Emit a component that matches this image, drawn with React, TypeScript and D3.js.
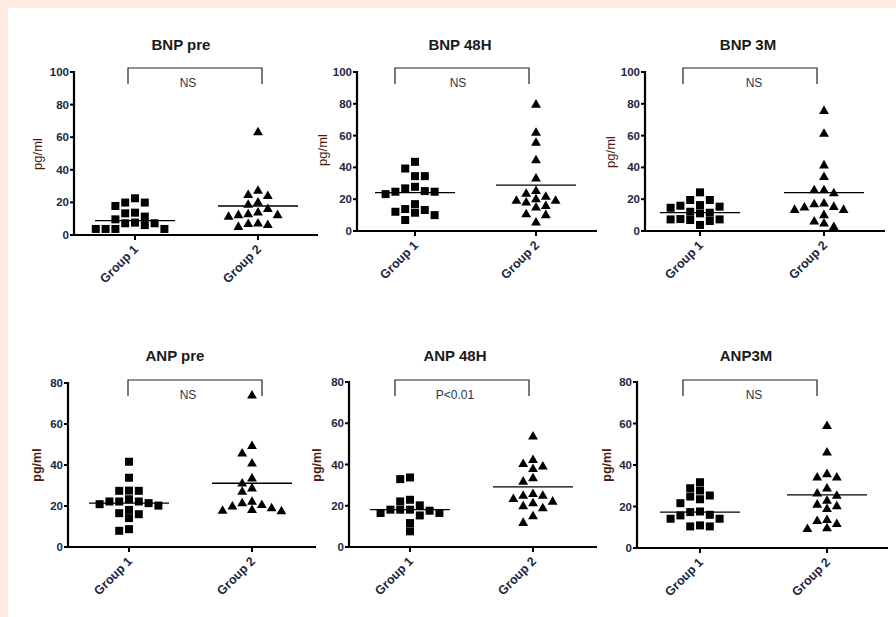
import React from "react";
import * as d3 from "d3";

// ---- data ----
const groups = ["Group 1", "Group 2"];
const titles = ["BNP pre", "BNP 48H", "BNP 3M", "ANP pre", "ANP 48H", "ANP3M"];
const pLabels = ["NS", "NS", "NS", "NS", "P<0.01", "NS"];
const yMaxes = [100, 100, 100, 80, 80, 80];

const bnpPreG1 = [22.5, 19.9, 19.9, 17.8, 13.7, 13.3, 11.3, 9.6, 7.6, 7.2, 7.2, 6.1, 3.7, 3.7, 3.7, 3.7];
const bnpPreG2 = [63.5, 27.7, 25, 24.5, 20.5, 19, 16.4, 14.3, 13.3, 12.7, 12.7, 11.7, 7.6, 7.2, 6.6, 5.5];
const bnp48G1 = [43.5, 39.3, 34.5, 34.5, 27.8, 26.8, 25.1, 24.7, 24.7, 23.2, 16.9, 13.8, 13.2, 12.1, 11.5, 10.0, 6.9];
const bnp48G2 = [80, 62.3, 56, 45, 33.5, 25.7, 24, 22, 20.5, 19.5, 19.5, 18.4, 16.3, 15.3, 11, 10.5, 5.9];
const bnp3mG1 = [24.3, 19.5, 19.5, 16.3, 15.9, 15.3, 14.6, 12.1, 11.5, 11.1, 7.5, 7.3, 7.3, 6.9, 6.3, 3.8];
const bnp3mG2 = [76, 61.7, 41.8, 34.5, 26.2, 26.2, 24.3, 17.8, 17.4, 15.7, 15.3, 13.8, 13.8, 10.5, 6.5, 5.2, 3.1];
const anpPreG1 = [41.6, 33.8, 27.5, 27.4, 27.4, 23.3, 22.2, 22.2, 22.2, 21.4, 20.9, 20.2, 18.1, 16.5, 16, 14.1, 8.7, 7.9];
const anpPreG2 = [74.3, 49.7, 46, 41.1, 33.8, 31.4, 29, 27.4, 22.5, 21.7, 20.9, 20.2, 19.3, 18.5, 18.1, 17.8];
const anp48G1 = [33.7, 32.9, 22.9, 22.1, 20.2, 18.1, 18.1, 18.1, 17.6, 16.5, 16.5, 15.3, 11.6, 7.6];
const anp48G2 = [54, 42.6, 40.6, 39.4, 38.2, 33.7, 32.1, 26.1, 25.3, 25.3, 23.7, 22.4, 21.6, 20.2, 19.2, 15.3, 12.1];
const anp3mG1 = [31.7, 28.8, 27.7, 25.3, 24.8, 23.5, 21.6, 17.6, 17.3, 16, 15.7, 14.1, 14.1, 10.9, 10.4, 10.4];
const anp3mG2 = [59.2, 46.4, 36, 34.4, 34.4, 29.1, 26.7, 25.6, 23.2, 21.3, 20.5, 19.2, 13.9, 13.4, 12, 9.9, 9.6];

const group1Series = [bnpPreG1, bnp48G1, bnp3mG1, anpPreG1, anp48G1, anp3mG1];
const group2Series = [bnpPreG2, bnp48G2, bnp3mG2, anpPreG2, anp48G2, anp3mG2];
const group1Lines = [8.8, 24.1, 11.5, 21.4, 18.1, 17.3];
const group2Lines = [17.8, 28.9, 24.1, 31.1, 29.2, 25.6];

// ---- layout (pixels) ----
const layouts = [
  { left: 74, right: 318, top: 72, bottom: 235, g1: 135, g2: 258, titleX: 181, titleY: 50, yLabX: 37, yLabY: 154, br: [128, 262], brTop: 68, brBot: 84, pX: 188, bold: false },
  { left: 357, right: 597, top: 72, bottom: 231, g1: 415, g2: 536, titleX: 460, titleY: 50, yLabX: 322, yLabY: 150, br: [395, 529], brTop: 68, brBot: 84, pX: 458, bold: false },
  { left: 645, right: 885, top: 72, bottom: 231, g1: 700, g2: 824, titleX: 748, titleY: 50, yLabX: 610, yLabY: 152, br: [683, 817], brTop: 68, brBot: 84, pX: 754, bold: false },
  { left: 68, right: 316, top: 383, bottom: 547, g1: 129, g2: 252, titleX: 175, titleY: 361, yLabX: 37, yLabY: 465, br: [128, 262], brTop: 380, brBot: 396, pX: 188, bold: true },
  { left: 349, right: 597, top: 382, bottom: 547, g1: 410, g2: 533, titleX: 455, titleY: 361, yLabX: 317, yLabY: 465, br: [395, 529], brTop: 380, brBot: 396, pX: 455, bold: true },
  { left: 637, right: 888, top: 382, bottom: 548, g1: 700, g2: 827, titleX: 746, titleY: 361, yLabX: 607, yLabY: 465, br: [683, 817], brTop: 380, brBot: 396, pX: 754, bold: true },
];

const FONT = "'Liberation Sans', Arial, Helvetica, sans-serif";
const TICK_COLOR = "#1b2745";
const SPACING = 9.8;
const MSIZE = 8;

function swarm(values: number[], y: (v: number) => number, cx: number) {
  const placed: { x: number; y: number }[] = [];
  const sorted = [...values].sort((a, b) => b - a);
  for (const v of sorted) {
    const py = y(v);
    for (let k = 0; k < 30; k++) {
      const col = k === 0 ? 0 : k % 2 === 1 ? -Math.ceil(k / 2) : Math.ceil(k / 2);
      const px = cx + col * SPACING;
      const hit = placed.some((p) => Math.abs(p.x - px) < SPACING - 1 && Math.abs(p.y - py) < MSIZE);
      if (!hit) {
        placed.push({ x: px, y: py });
        break;
      }
    }
  }
  return placed;
}

const triPath = d3.symbol().type(d3.symbolTriangle).size(42)() as string;

function Panel({ i }: { i: number }) {
  const L = layouts[i];
  const y = d3.scaleLinear().domain([0, yMaxes[i]]).range([L.bottom, L.top]);
  const x = d3.scalePoint<string>().domain(groups).range([L.g1, L.g2]);
  const ticks = y.ticks(5);
  const pts1 = swarm(group1Series[i], y, x("Group 1")!);
  const pts2 = swarm(group2Series[i], y, x("Group 2")!);
  const lines = [group1Lines[i], group2Lines[i]];
  return (
    <g>
      <text x={L.titleX} y={L.titleY} textAnchor="middle" fontFamily={FONT} fontWeight="bold" fontSize={15} fill="#1a1a1a">
        {titles[i]}
      </text>
      {/* bracket */}
      <path d={`M${L.br[0]},${L.brBot}V${L.brTop}H${L.br[1]}V${L.brBot}`} fill="none" stroke="#222" strokeWidth={1.2} />
      <text x={L.pX} y={L.brTop + 19} textAnchor="middle" fontFamily={FONT} fontSize={12} fill="#2a3552">
        {pLabels[i]}
      </text>
      {/* y axis */}
      <line x1={L.left} x2={L.left} y1={y(0) + 1} y2={y(yMaxes[i]) - 1} stroke="#000" strokeWidth={2.2} />
      {ticks.map((t) => (
        <g key={t}>
          <line x1={L.left - 4} x2={L.left} y1={y(t)} y2={y(t)} stroke="#000" strokeWidth={2} />
          <text x={L.left - 5} y={y(t) + 4} textAnchor="end" fontFamily={FONT} fontWeight="bold" fontSize={11.5} fill={TICK_COLOR}>
            {t}
          </text>
        </g>
      ))}
      <text
        transform={`translate(${L.yLabX},${L.yLabY}) rotate(-90)`}
        textAnchor="middle"
        dominantBaseline="central"
        fontFamily={FONT}
        fontWeight={L.bold ? "bold" : "normal"}
        fontSize={L.bold ? 12.5 : 13}
        fill="#4a1c10"
      >
        pg/ml
      </text>
      {/* x axis */}
      <line x1={L.left - 1} x2={L.right} y1={L.bottom} y2={L.bottom} stroke="#000" strokeWidth={2.2} />
      {groups.map((g) => (
        <g key={g}>
          <line x1={x(g)!} x2={x(g)!} y1={L.bottom} y2={L.bottom + 5} stroke="#000" strokeWidth={2} />
          <text
            transform={`translate(${x(g)! + 4},${L.bottom + 15}) rotate(-45)`}
            textAnchor="end"
            fontFamily={FONT}
            fontWeight="bold"
            fontSize={12.5}
            fill={TICK_COLOR}
          >
            {g}
          </text>
        </g>
      ))}
      {/* points */}
      {pts1.map((p, k) => (
        <rect key={"a" + k} x={p.x - MSIZE / 2} y={p.y - MSIZE / 2} width={MSIZE} height={MSIZE} fill="#000" />
      ))}
      {pts2.map((p, k) => (
        <path key={"b" + k} d={triPath} transform={`translate(${p.x},${p.y + 1})`} fill="#000" />
      ))}
      {/* mean lines */}
      {groups.map((g, k) => (
        <line key={g} x1={x(g)! - 40} x2={x(g)! + 40} y1={y(lines[k])} y2={y(lines[k])} stroke="#000" strokeWidth={1.3} />
      ))}
    </g>
  );
}

export default function App() {
  return (
    <svg width={896} height={617} style={{ position: "absolute", left: 0, top: 0 }}>
      <rect x={0} y={0} width={896} height={617} fill="#ffffff" />
      <rect x={0} y={0} width={896} height={8} fill="#fcebe0" />
      <rect x={0} y={0} width={8} height={617} fill="#fcebe0" />
      {layouts.map((_, i) => (
        <Panel key={i} i={i} />
      ))}
    </svg>
  );
}
